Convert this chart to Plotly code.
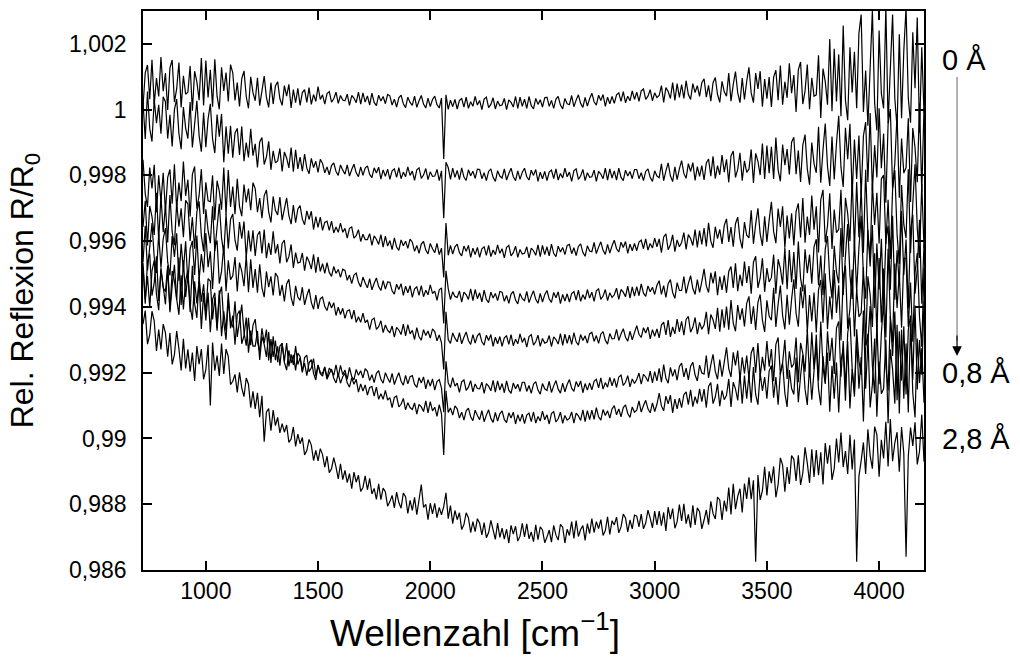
import plotly.graph_objects as go

# sample positions (cm^-1), one every 10 cm^-1
wavenumber = list(range(720, 4201, 10))

# R/R0 - 1, in units of 1e-5 (top curve = 0 Å ... bottom = 2,8 Å)
dR_1 = [8, 112, 136, 32, 152, 16, 96, 40, 160, 56,
        111, -1, 127, 151, 23, 63, 143, 7, 103, 47,
        53, 133, -3, 117, 85, 29, 157, 13, 149, 37,
        121, 9, 153, 41, 1, 129, 57, 113, 25, 137,
        112, 28, 82, 10, 94, 118, 40, 4, 100, 52,
        27, 97, 12, 62, 102, 37, 7, 82, 17, 72,
        85, 33, 13, 73, 41, 77, 5, 61, 21, 65,
        13, 52, 61, 22, 67, 16, 46, 25, 70, 31,
        45, 17, 49, 55, 23, 33, 53, 19, 43, 29,
        27, 47, 13, 43, 35, 21, 53, 17, 51, 23,
        42, 14, 50, 22, 12, 44, 26, 40, 18, 46,
        42, 14, 32, 8, 36, 44, 18, 6, 38, 22,
        13, 41, 7, 27, 43, 17, 5, 35, 9, 31,
        41, 15, 5, 35, -150, 45, 1, 29, 9, 31,
        2, 28, 34, 8, 38, 4, 24, 10, 40, 14,
        28, 0, 32, 38, 6, 16, 36, 2, 26, 12,
        14, 34, 0, 30, 22, 8, 40, 4, 38, 10,
        32, 4, 40, 12, 2, 34, 16, 30, 8, 36,
        38, 10, 28, 4, 32, 40, 14, 2, 34, 18,
        15, 43, 9, 29, 45, 19, 7, 37, 11, 33,
        50, 24, 14, 44, 28, 46, 10, 38, 18, 40,
        19, 45, 51, 25, 55, 21, 41, 27, 57, 31,
        53, 25, 57, 63, 31, 41, 61, 27, 51, 37,
        43, 73, 22, 67, 55, 34, 82, 28, 79, 37,
        76, 34, 88, 46, 31, 79, 52, 73, 40, 82,
        94, 38, 74, 26, 82, 98, 46, 22, 86, 54,
        41, 111, 26, 76, 116, 51, 21, 96, 31, 86,
        129, 51, 21, 111, 63, 117, 9, 93, 33, 99,
        8, 99, 120, 29, 134, 15, 85, 36, 141, 50,
        105, -7, 121, 145, 17, 57, 137, 1, 97, 41,
        45, 165, -25, 125, 85, 15, 215, -5, 185, 25,
        168, -20, 256, 28, -32, 190, 52, 176, 4, 232,
        289, -7, 119, -49, 147, 303, 21, -63, 241, 49,
        4, 314, -41, 109, 289, 34, -56, 229, -26, 179,
        310, 35, -40, 235, 65, 280, -70, 190, -10]

dR_2 = [23, -89, 55, -57, -97, 31, -41, 15, -73, 39,
        24, -88, -16, -112, 0, 32, -72, -120, 8, -56,
        -88, 23, -115, -36, 27, -79, -128, -9, -114, -28,
        18, -89, -132, -15, -82, -13, -160, -51, -134, -49,
        -146, -71, -57, -138, -51, -157, -100, -145, -58, -140,
        -104, -176, -98, -85, -167, -144, -96, -183, -125, -162,
        -156, -118, -188, -129, -147, -177, -115, -189, -122, -180,
        -144, -187, -135, -178, -195, -148, -176, -157, -191, -151,
        -164, -192, -174, -198, -170, -162, -188, -200, -168, -184,
        -196, -168, -202, -182, -166, -192, -204, -174, -200, -178,
        -171, -197, -207, -177, -193, -175, -211, -183, -203, -181,
        -212, -186, -180, -206, -176, -210, -190, -204, -174, -200,
        -187, -215, -183, -177, -209, -199, -179, -213, -189, -203,
        -202, -182, -216, -186, -330, -160, -176, -212, -178, -206,
        -185, -213, -177, -205, -215, -183, -201, -187, -209, -181,
        -182, -210, -192, -216, -188, -180, -206, -218, -186, -202,
        -208, -180, -214, -194, -178, -204, -216, -186, -212, -190,
        -178, -204, -214, -184, -200, -182, -218, -190, -210, -188,
        -216, -190, -184, -210, -180, -214, -194, -208, -178, -204,
        -190, -218, -186, -180, -212, -202, -182, -216, -192, -206,
        -204, -184, -218, -188, -196, -210, -178, -214, -180, -208,
        -186, -214, -178, -206, -216, -184, -202, -188, -210, -182,
        -182, -210, -192, -216, -188, -180, -206, -218, -186, -202,
        -207, -165, -216, -186, -162, -201, -219, -174, -213, -180,
        -155, -194, -209, -164, -188, -161, -215, -173, -203, -170,
        -214, -162, -150, -202, -142, -210, -170, -198, -138, -190,
        -151, -221, -141, -126, -206, -181, -131, -216, -156, -191,
        -181, -121, -223, -133, -157, -199, -103, -211, -109, -193,
        -113, -211, -85, -183, -218, -106, -169, -120, -197, -99,
        -84, -196, -124, -220, -108, -76, -180, -228, -100, -164,
        -192, -52, -222, -122, -42, -172, -232, -82, -212, -102,
        -19, -175, -235, -55, -151, -43, -259, -91, -211, -79,
        -262, -80, -38, -220, -10, -248, -108, -206, 4, -178,
        -73, -283, -43, 2, -238, -163, -13, -268, -88, -193,
        -176, -26, -281, -56, -116, -221, 19, -251, 4]

dR_3 = [-152, -256, -296, -176, -240, -168, -312, -200, -280, -192,
        -310, -206, -182, -286, -166, -302, -222, -278, -158, -262,
        -213, -325, -197, -173, -301, -261, -181, -317, -221, -277,
        -280, -200, -336, -216, -248, -304, -176, -320, -184, -296,
        -234, -318, -210, -294, -324, -228, -282, -240, -306, -222,
        -240, -312, -269, -330, -262, -244, -311, -343, -264, -306,
        -320, -266, -336, -298, -268, -322, -348, -290, -344, -302,
        -292, -333, -350, -308, -334, -309, -365, -325, -358, -327,
        -367, -343, -339, -367, -339, -375, -357, -373, -345, -373,
        -361, -391, -361, -357, -391, -383, -365, -401, -379, -395,
        -395, -377, -413, -384, -394, -410, -380, -418, -385, -415,
        -398, -426, -390, -418, -428, -396, -414, -400, -422, -394,
        -403, -431, -413, -437, -409, -401, -427, -439, -407, -423,
        -435, -407, -441, -421, -510, -345, -443, -413, -439, -417,
        -409, -435, -445, -415, -431, -413, -449, -421, -441, -419,
        -449, -423, -417, -443, -413, -447, -427, -441, -411, -437,
        -423, -451, -419, -413, -445, -435, -415, -449, -425, -439,
        -437, -417, -451, -421, -429, -443, -411, -447, -413, -441,
        -417, -445, -409, -437, -447, -415, -433, -419, -441, -413,
        -410, -438, -420, -444, -416, -408, -434, -446, -414, -430,
        -432, -404, -438, -418, -402, -428, -440, -410, -436, -414,
        -397, -423, -433, -403, -419, -401, -437, -409, -429, -407,
        -429, -403, -397, -423, -393, -427, -407, -421, -391, -417,
        -393, -435, -387, -378, -426, -411, -381, -432, -396, -417,
        -404, -374, -425, -380, -392, -413, -365, -419, -368, -410,
        -360, -416, -344, -400, -420, -356, -392, -364, -408, -352,
        -332, -402, -357, -417, -347, -327, -392, -422, -342, -382,
        -390, -306, -408, -348, -300, -378, -414, -324, -402, -336,
        -280, -371, -406, -301, -357, -294, -420, -322, -392, -315,
        -413, -309, -285, -389, -269, -405, -325, -381, -261, -365,
        -294, -434, -274, -244, -404, -354, -254, -424, -304, -374,
        -364, -244, -448, -268, -316, -400, -208, -424, -220, -388,
        -239, -435, -183, -379, -449, -225, -351, -253, -407, -211,
        -199, -409, -274, -454, -244, -184, -379, -469, -229, -349,
        -391, -181, -436, -286, -166, -361, -451, -226, -421]

dR_4 = [-357, -277, -413, -293, -325, -381, -253, -397, -261, -373,
        -292, -404, -260, -372, -412, -284, -356, -300, -388, -276,
        -287, -399, -327, -423, -311, -279, -383, -431, -303, -367,
        -406, -294, -430, -350, -286, -390, -438, -318, -422, -334,
        -317, -397, -429, -342, -392, -340, -450, -368, -431, -367,
        -445, -382, -370, -437, -365, -452, -405, -442, -370, -437,
        -409, -468, -407, -397, -464, -447, -410, -481, -435, -466,
        -464, -436, -490, -447, -462, -485, -440, -496, -448, -492,
        -468, -498, -465, -495, -507, -477, -498, -486, -510, -485,
        -489, -519, -503, -529, -503, -497, -525, -539, -509, -527,
        -542, -514, -548, -528, -512, -538, -550, -520, -546, -524,
        -525, -551, -561, -531, -547, -529, -565, -537, -557, -535,
        -571, -545, -539, -565, -535, -569, -549, -563, -533, -559,
        -552, -580, -548, -542, -650, -490, -544, -578, -554, -568,
        -571, -551, -585, -555, -563, -577, -545, -581, -547, -575,
        -557, -585, -549, -577, -587, -555, -573, -559, -581, -553,
        -555, -583, -565, -589, -561, -553, -579, -591, -559, -575,
        -581, -553, -587, -567, -551, -577, -589, -559, -585, -563,
        -550, -576, -586, -556, -572, -554, -590, -562, -582, -560,
        -585, -559, -553, -579, -549, -583, -563, -577, -547, -573,
        -555, -583, -551, -545, -577, -567, -547, -581, -557, -571,
        -563, -543, -577, -547, -555, -569, -537, -573, -539, -567,
        -538, -566, -530, -558, -568, -536, -554, -540, -562, -534,
        -520, -562, -535, -571, -529, -517, -556, -574, -526, -550,
        -550, -508, -559, -529, -505, -544, -562, -517, -556, -523,
        -484, -536, -556, -496, -528, -492, -564, -508, -548, -504,
        -557, -492, -477, -542, -467, -552, -502, -537, -462, -527,
        -476, -560, -464, -446, -542, -512, -452, -554, -482, -524,
        -511, -441, -560, -455, -483, -532, -420, -546, -427, -525,
        -433, -545, -401, -513, -553, -425, -497, -441, -529, -417,
        -394, -534, -444, -564, -424, -384, -514, -574, -414, -494,
        -528, -360, -564, -444, -348, -504, -576, -396, -552, -420,
        -323, -505, -575, -365, -477, -351, -603, -407, -547, -393,
        -593, -398, -353, -548, -323, -578, -428, -533, -308, -503,
        -395, -605, -365, -320, -560, -485, -335, -590, -410]

dR_5 = [-465, -353, -489, -409, -345, -449, -497, -377, -481, -393,
        -360, -464, -504, -384, -448, -376, -520, -408, -488, -400,
        -527, -423, -399, -503, -383, -519, -439, -495, -375, -479,
        -431, -545, -420, -398, -529, -491, -413, -552, -458, -517,
        -505, -448, -553, -465, -492, -537, -444, -555, -455, -542,
        -485, -557, -470, -542, -570, -492, -540, -507, -565, -497,
        -508, -566, -533, -583, -530, -516, -571, -597, -536, -570,
        -580, -540, -594, -566, -545, -586, -607, -564, -606, -575,
        -570, -599, -611, -584, -603, -587, -626, -601, -623, -604,
        -635, -612, -609, -637, -610, -647, -630, -647, -619, -648,
        -639, -669, -639, -634, -668, -660, -642, -678, -655, -671,
        -678, -658, -692, -662, -670, -684, -652, -688, -654, -682,
        -671, -699, -663, -691, -701, -669, -687, -673, -695, -667,
        -675, -703, -685, -709, -790, -615, -699, -711, -679, -695,
        -706, -678, -712, -692, -676, -702, -714, -684, -710, -688,
        -680, -706, -716, -686, -702, -684, -720, -692, -712, -690,
        -720, -694, -688, -714, -684, -718, -698, -712, -682, -708,
        -694, -722, -690, -684, -716, -706, -686, -720, -696, -710,
        -707, -687, -721, -691, -699, -713, -681, -717, -683, -711,
        -686, -714, -678, -706, -716, -684, -702, -688, -710, -682,
        -677, -705, -687, -711, -683, -675, -701, -713, -681, -697,
        -696, -668, -702, -682, -666, -692, -704, -674, -700, -678,
        -657, -683, -693, -663, -679, -661, -697, -669, -689, -667,
        -694, -655, -646, -685, -640, -691, -661, -682, -637, -676,
        -644, -686, -638, -629, -677, -662, -632, -683, -647, -668,
        -655, -615, -683, -623, -639, -667, -603, -675, -607, -663,
        -599, -669, -579, -649, -674, -594, -639, -604, -659, -589,
        -568, -652, -598, -670, -586, -562, -640, -676, -580, -628,
        -640, -542, -661, -591, -535, -626, -668, -563, -654, -577,
        -516, -620, -660, -540, -604, -532, -676, -564, -644, -556,
        -678, -548, -518, -648, -498, -668, -568, -638, -488, -618,
        -534, -702, -510, -474, -666, -606, -486, -690, -546, -630,
        -619, -479, -717, -507, -563, -661, -437, -689, -451, -647,
        -483, -693, -423, -633, -708, -468, -603, -498, -663, -453,
        -451, -661, -526, -706, -496, -436, -631, -721, -481]

dR_6 = [-478, -590, -462, -438, -566, -526, -446, -582, -486, -542,
        -554, -474, -610, -490, -522, -578, -450, -594, -458, -570,
        -500, -615, -475, -590, -633, -509, -584, -531, -622, -514,
        -521, -638, -571, -672, -565, -538, -647, -700, -577, -646,
        -662, -583, -691, -636, -593, -677, -718, -633, -716, -656,
        -637, -706, -736, -665, -710, -669, -763, -698, -752, -702,
        -768, -719, -711, -766, -710, -781, -744, -776, -719, -775,
        -755, -799, -754, -747, -797, -785, -757, -810, -776, -800,
        -802, -782, -816, -786, -794, -808, -776, -812, -778, -806,
        -792, -820, -784, -812, -822, -790, -808, -794, -816, -788,
        -796, -824, -806, -830, -802, -794, -820, -832, -800, -816,
        -830, -802, -836, -816, -800, -826, -838, -808, -834, -812,
        -809, -835, -845, -815, -831, -813, -849, -821, -841, -819,
        -853, -827, -821, -847, -920, -765, -831, -845, -815, -841,
        -832, -860, -828, -822, -854, -844, -824, -858, -834, -848,
        -849, -829, -863, -833, -841, -855, -823, -859, -825, -853,
        -833, -861, -825, -853, -863, -831, -849, -835, -857, -829,
        -829, -857, -839, -863, -835, -827, -853, -865, -833, -849,
        -854, -826, -860, -840, -824, -850, -862, -832, -858, -836,
        -821, -847, -857, -827, -843, -825, -861, -833, -853, -831,
        -852, -826, -820, -846, -816, -850, -830, -844, -814, -840,
        -817, -845, -813, -807, -839, -829, -809, -843, -819, -833,
        -821, -801, -835, -805, -813, -827, -795, -831, -797, -825,
        -787, -829, -775, -817, -832, -784, -811, -790, -823, -781,
        -771, -813, -786, -822, -780, -768, -807, -825, -777, -801,
        -804, -748, -816, -776, -744, -796, -820, -760, -812, -768,
        -723, -788, -813, -738, -778, -733, -823, -753, -803, -748,
        -818, -740, -722, -800, -710, -812, -752, -794, -704, -782,
        -728, -826, -714, -693, -805, -770, -700, -819, -735, -784,
        -773, -693, -829, -709, -741, -797, -669, -813, -677, -789,
        -684, -824, -644, -784, -834, -674, -764, -694, -804, -664,
        -644, -812, -704, -848, -680, -632, -788, -860, -668, -764,
        -807, -611, -849, -709, -597, -779, -863, -653, -835, -681,
        -584, -779, -854, -629, -749, -614, -884, -674, -824, -659,
        -866, -671, -626, -821, -596, -851, -701, -806, -581]

dR_7 = [-466, -578, -506, -602, -490, -458, -562, -610, -482, -546,
        -592, -480, -616, -536, -472, -576, -624, -504, -608, -520,
        -489, -596, -639, -522, -589, -520, -667, -558, -641, -556,
        -677, -577, -557, -665, -549, -689, -613, -673, -557, -665,
        -626, -715, -624, -611, -712, -687, -632, -739, -672, -719,
        -719, -673, -761, -690, -714, -752, -676, -770, -689, -762,
        -720, -779, -710, -769, -792, -732, -771, -746, -793, -740,
        -751, -795, -771, -809, -770, -760, -802, -822, -777, -803,
        -810, -784, -820, -803, -789, -817, -831, -803, -832, -812,
        -802, -831, -844, -816, -835, -820, -859, -834, -856, -837,
        -868, -845, -842, -871, -844, -881, -864, -881, -854, -883,
        -876, -906, -875, -871, -904, -896, -878, -913, -891, -906,
        -912, -892, -926, -896, -904, -918, -886, -922, -888, -916,
        -905, -933, -897, -925, -1050, -855, -921, -907, -929, -901,
        -910, -938, -920, -944, -916, -908, -934, -946, -914, -930,
        -943, -915, -949, -929, -913, -939, -951, -921, -947, -925,
        -916, -942, -952, -922, -938, -920, -956, -928, -948, -926,
        -955, -929, -923, -949, -919, -953, -933, -947, -917, -943,
        -928, -956, -924, -918, -950, -940, -920, -954, -930, -944,
        -939, -919, -953, -923, -931, -945, -913, -949, -915, -943,
        -914, -942, -906, -934, -944, -912, -930, -916, -938, -910,
        -900, -928, -910, -934, -906, -898, -924, -936, -904, -920,
        -914, -886, -920, -900, -884, -910, -922, -892, -918, -896,
        -862, -901, -916, -871, -895, -868, -922, -880, -910, -877,
        -906, -867, -858, -897, -852, -903, -873, -894, -849, -888,
        -850, -906, -842, -830, -894, -874, -834, -902, -854, -882,
        -869, -819, -904, -829, -849, -884, -804, -894, -809, -879,
        -807, -891, -783, -867, -897, -801, -855, -813, -879, -795,
        -778, -876, -813, -897, -799, -771, -862, -904, -792, -848,
        -866, -754, -890, -810, -746, -850, -898, -778, -882, -794,
        -719, -849, -899, -749, -829, -739, -919, -779, -879, -769,
        -921, -765, -729, -885, -705, -909, -789, -873, -693, -849,
        -752, -948, -724, -682, -906, -836, -696, -934, -766, -864,
        -849, -699, -954, -729, -789, -894, -654, -924, -669, -879,
        -711, -921, -651, -861, -936, -696, -831, -726, -891]

dR_8 = [-652, -611, -713, -684, -613, -643, -734, -669, -729, -652,
        -679, -751, -679, -775, -745, -673, -727, -793, -697, -787,
        -729, -797, -739, -825, -719, -774, -728, -820, -791, -715,
        -900, -708, -794, -748, -810, -711, -804, -728, -751, -836,
        -826, -805, -860, -799, -846, -873, -816, -835, -906, -857,
        -910, -861, -935, -870, -1010, -919, -909, -976, -914, -961,
        -936, -983, -955, -981, -959, -1012, -1002, -965, -1024, -987,
        -1016, -997, -1050, -1037, -1003, -1020, -1067, -1036, -1068, -1031,
        -1049, -1087, -1054, -1104, -1092, -1058, -1087, -1123, -1077, -1125,
        -1097, -1134, -1107, -1153, -1102, -1133, -1112, -1161, -1149, -1114,
        -1156, -1121, -1169, -1152, -1185, -1138, -1186, -1151, -1163, -1206,
        -1192, -1173, -1211, -1163, -1195, -1212, -1166, -1177, -1228, -1188,
        -1219, -1179, -1232, -1179, -1140, -1210, -1200, -1247, -1197, -1229,
        -1197, -1241, -1210, -1232, -1207, -1165, -1244, -1204, -1259, -1219,
        -1247, -1226, -1277, -1262, -1226, -1241, -1286, -1253, -1283, -1244,
        -1258, -1293, -1256, -1302, -1286, -1249, -1275, -1307, -1257, -1301,
        -1273, -1306, -1276, -1318, -1264, -1291, -1267, -1312, -1297, -1258,
        -1299, -1260, -1305, -1284, -1314, -1263, -1308, -1269, -1278, -1317,
        -1300, -1279, -1315, -1264, -1294, -1309, -1261, -1270, -1318, -1276,
        -1295, -1253, -1304, -1250, -1298, -1277, -1265, -1310, -1259, -1289,
        -1244, -1286, -1253, -1274, -1247, -1295, -1280, -1238, -1292, -1250,
        -1263, -1239, -1287, -1269, -1230, -1242, -1284, -1248, -1275, -1233,
        -1236, -1269, -1230, -1275, -1257, -1218, -1242, -1272, -1221, -1263,
        -1221, -1265, -1225, -1281, -1209, -1245, -1213, -1273, -1253, -1201,
        -1251, -1199, -1259, -1231, -1271, -1203, -1263, -1211, -1223, -1275,
        -1248, -1217, -1262, -1191, -1228, -1245, -1178, -1187, -1248, -1189,
        -1222, -1149, -1231, -1138, -1215, -1176, -1153, -1225, -1137, -1184,
        -1118, -1185, -1127, -1375, -1111, -1187, -1159, -1086, -1173, -1100,
        -1136, -1085, -1179, -1140, -1059, -1081, -1162, -1087, -1138, -1052,
        -1063, -1129, -1051, -1141, -1105, -1027, -1075, -1135, -1033, -1117,
        -1035, -1112, -1042, -1140, -1014, -1077, -1021, -1126, -1091, -1000,
        -1073, -982, -1087, -1038, -1108, -989, -1094, -1003, -1375, -1115,
        -1068, -1012, -1108, -972, -1052, -1092, -964, -988, -1116, -1004,
        -1061, -949, -1085, -941, -1069, -1013, -981, -1101, -965, -1045,
        -1360, -1055, -967, -1023, -951, -1079, -1039, -927, -1071]

curves = [dR_1, dR_2, dR_3, dR_4, dR_5, dR_6, dR_7, dR_8]

y_tickvals = [0.986, 0.988, 0.990, 0.992, 0.994, 0.996, 0.998, 1.000, 1.002]
y_ticktext = ["0,986", "0,988", "0,99", "0,992", "0,994", "0,996", "0,998", "1", "1,002"]
x_tickvals = [1000, 1500, 2000, 2500, 3000, 3500, 4000]
label_top = "0 Å"
label_mid = "0,8 Å"
label_bottom = "2,8 Å"
x_title = "Wellenzahl [cm<sup>−1</sup>]"
y_title = "Rel. Reflexion R/R<sub>0</sub>"

FONT = "Liberation Sans, Arial, Helvetica, sans-serif"

fig = go.Figure()
for c in curves:
    fig.add_trace(go.Scatter(
        x=wavenumber, y=[1 + v * 1e-5 for v in c], mode="lines",
        line=dict(color="black", width=1.2), showlegend=False, hoverinfo="skip"))

axis_common = dict(
    ticks="inside", ticklen=9, tickwidth=1.5, tickcolor="black",
    showline=True, linecolor="black", linewidth=1.5, mirror="ticks",
    showgrid=False, zeroline=False, tickfont=dict(size=23, color="black", family=FONT),
)

fig.update_xaxes(range=[720, 4200], tickvals=x_tickvals, **axis_common)
fig.update_yaxes(range=[0.986, 1.003], tickvals=y_tickvals, ticktext=y_ticktext,
                 ticklabelstandoff=10,
                 title=dict(text=y_title, font=dict(size=32, family=FONT, color="black"), standoff=26),
                 **axis_common)

fig.update_layout(
    width=1020, height=662,
    margin=dict(l=143, r=96, t=11, b=92, autoexpand=False),
    paper_bgcolor="white", plot_bgcolor="white",
    font=dict(family=FONT, color="black", size=23),
    showlegend=False,
)

# x-axis title (placed left of centre, as in the original)
fig.add_annotation(xref="paper", yref="paper", x=(475 - 143) / 781, y=(570 - 630) / 559,
                   xanchor="center", yanchor="middle", text=x_title, showarrow=False,
                   font=dict(size=37, family=FONT, color="black"))

# arrow from "0 Å" to "0,8 Å"
fig.add_shape(type="line", xref="paper", yref="paper",
              x0=1.0423, x1=1.0423, y0=0.882, y1=0.41,
              line=dict(color="#808080", width=1.2))
fig.add_annotation(xref="paper", yref="paper", x=1.0423, y=0.383, ax=0, ay=-22,
                   text="", showarrow=True, arrowhead=2, arrowsize=1.6, arrowwidth=1.2,
                   arrowcolor="black", standoff=0)

for txt, yp in [(label_top, 0.912), (label_mid, 0.3524), (label_bottom, 0.2343)]:
    fig.add_annotation(xref="paper", yref="paper", x=1.0205, y=yp, xanchor="left", yanchor="middle",
                       text=txt, showarrow=False, font=dict(size=29, family=FONT, color="black"))

fig.write_html("out.html", config={"displayModeBar": False},
               post_script="document.body.style.margin='0px';")
